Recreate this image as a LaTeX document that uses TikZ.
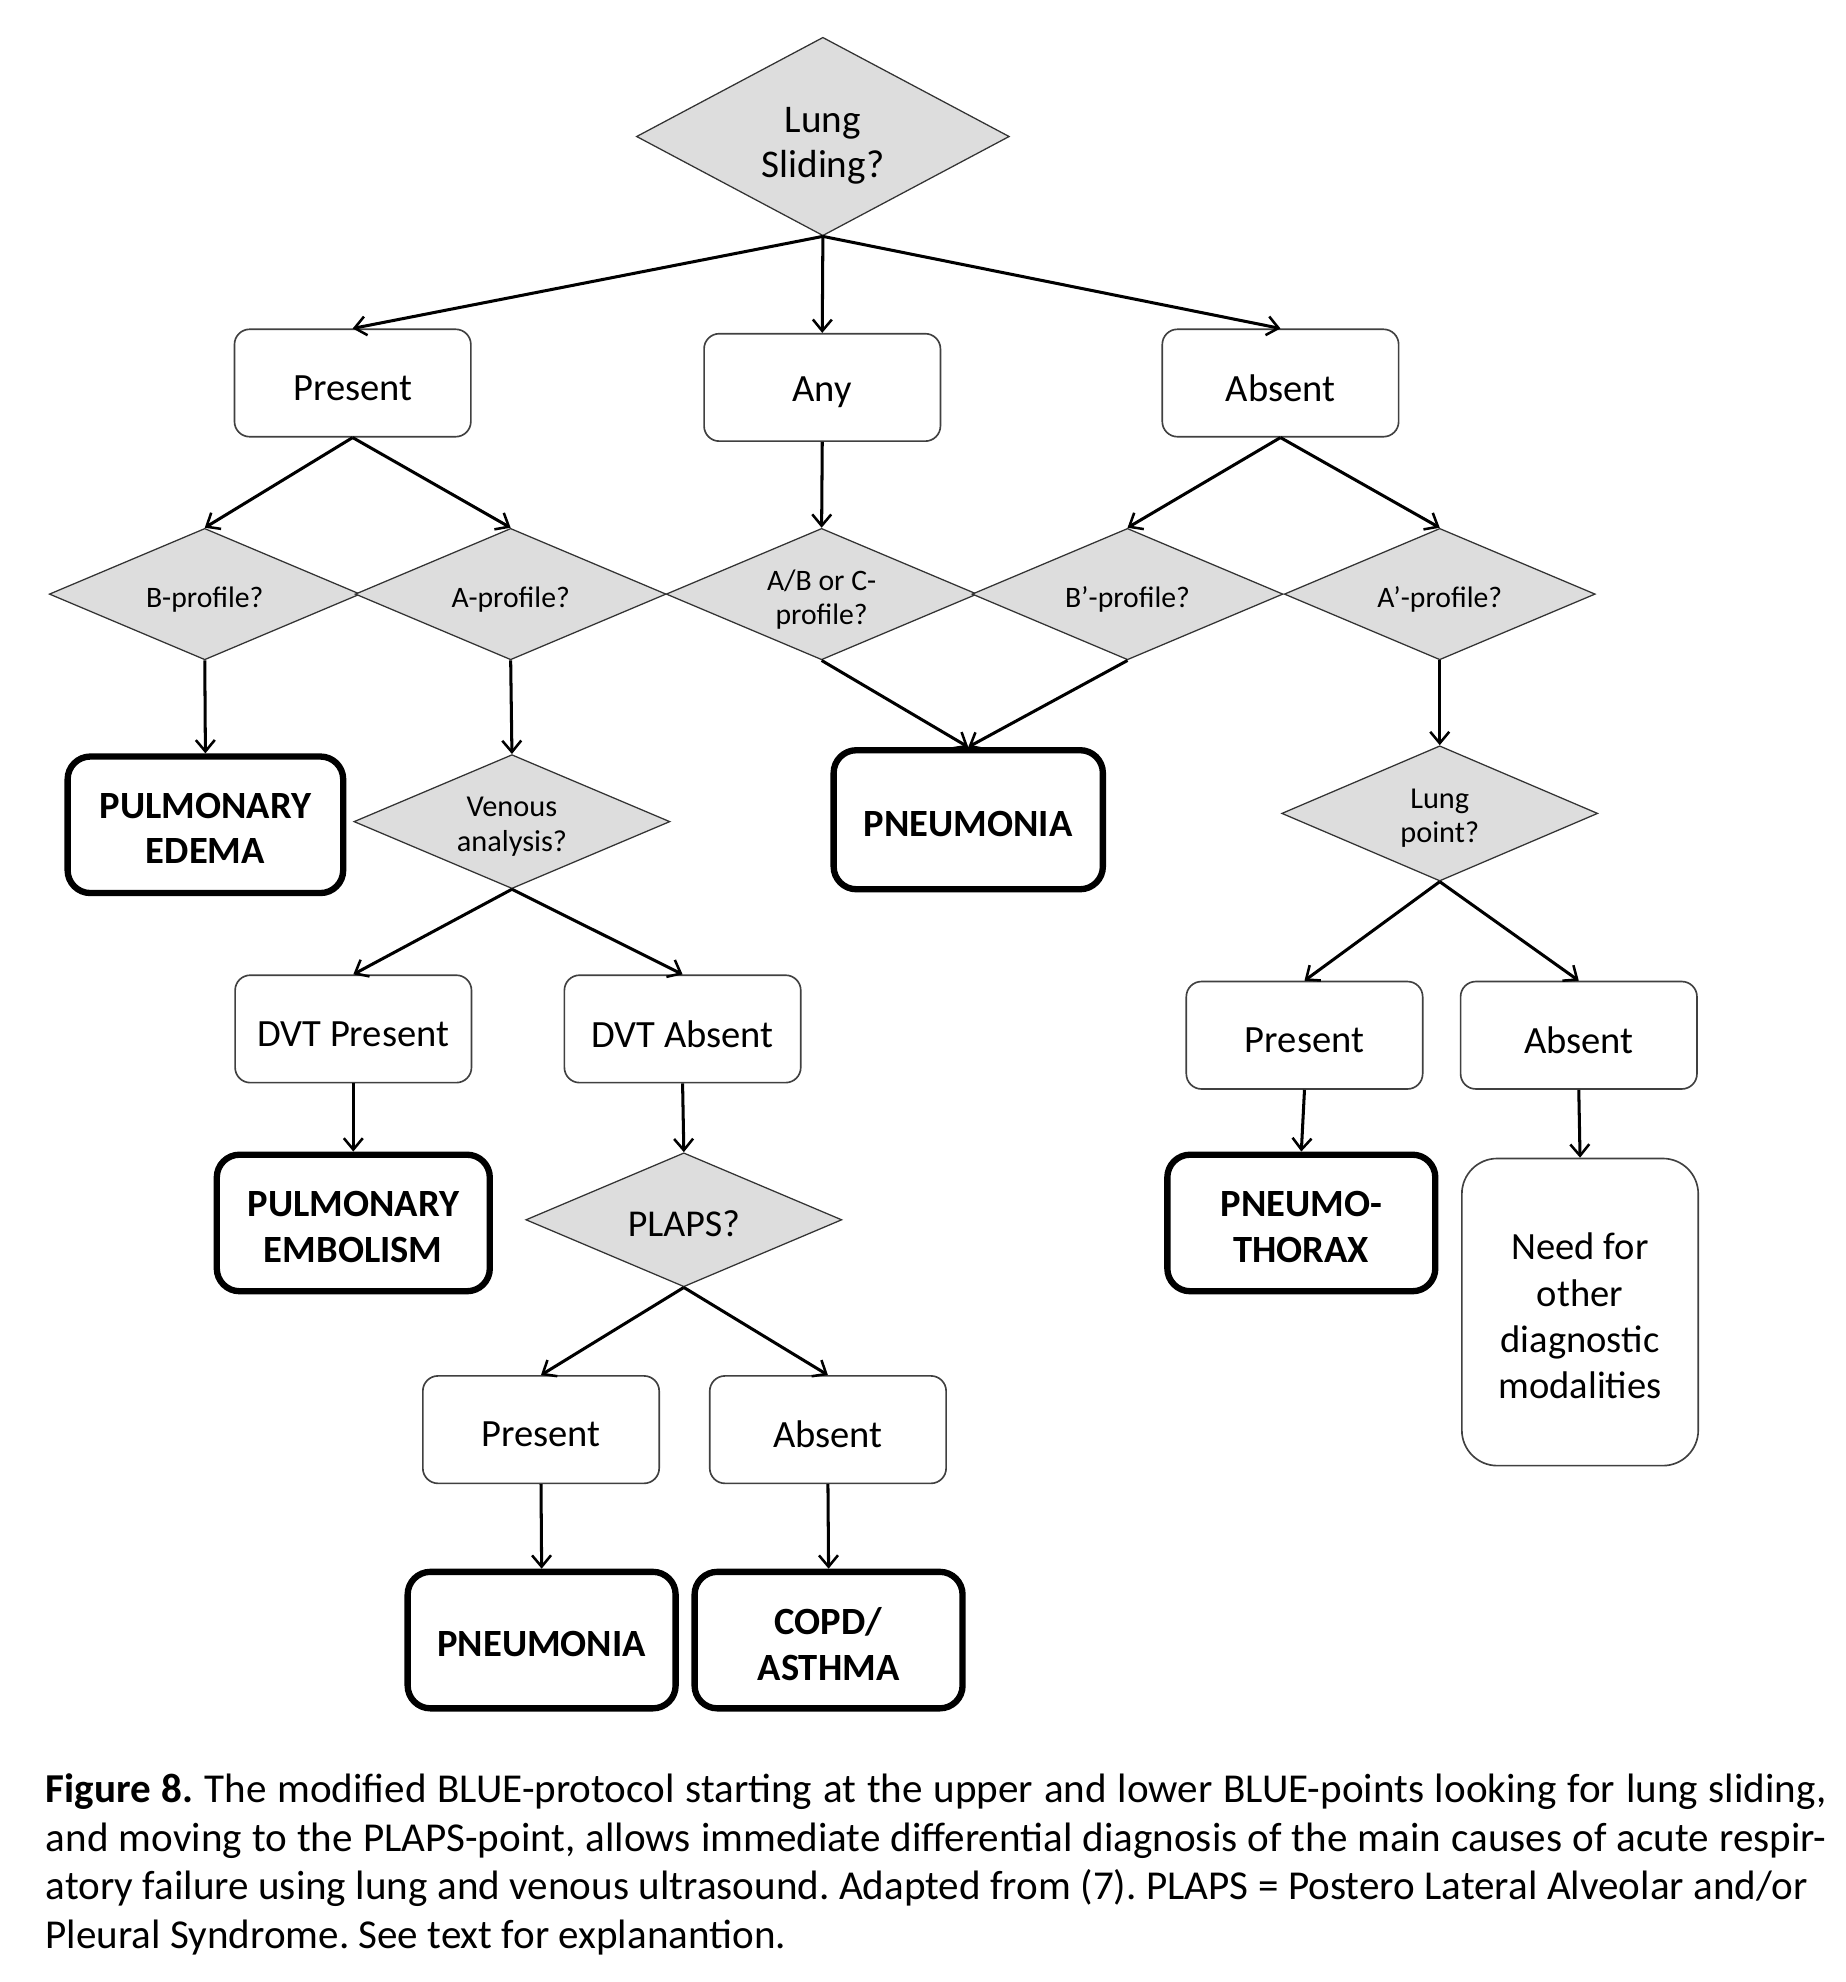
\documentclass[tikz,border=0pt]{standalone}
\usepackage{fontspec}
\setmainfont{Carlito}
\usetikzlibrary{shapes.geometric,arrows.meta}
\begin{document}
\begin{tikzpicture}[x=1pt,y=-1pt,
  t/.style={inner sep=0, align=center, yshift=-4pt},
  box/.style={draw=black!75, line width=1.3pt, rounded corners=12pt, fill=white,
    minimum width=187pt, minimum height=85pt, inner sep=0},
  bt/.style={t, font=\fontsize{30.5}{36.5}\selectfont},
  res/.style={draw=black, line width=5pt, rounded corners=18pt, fill=white,
    minimum width=212pt, minimum height=108pt, inner sep=0},
  rt/.style={t, yshift=1pt, font=\bfseries\fontsize{30.5}{36}\selectfont},
  dia/.style={diamond, aspect=2.4, draw=black!80, line width=1pt, fill=gray!27,
    minimum width=246pt, minimum height=104pt, inner sep=0},
  dt/.style={t, font=\fontsize{23.5}{27}\selectfont},
  conn/.style={line width=2.4pt, -{Straight Barb[length=9pt,width=15pt,line width=2pt]}}
]
\useasboundingbox (0,0) rectangle (1460,1568);
\fill[white] (0,0) rectangle (1460,1568);

% top
\node[dia, minimum width=295pt, minimum height=157pt,
  label={[t, yshift=-3pt, font=\fontsize{31}{35.5}\selectfont]center:{Lung\\Sliding?}}] (ls) at (651,108) {};
\node[box, label={[bt]center:Present}] (pres) at (279,303) {};
\node[box, label={[bt]center:Any}] (any) at (650.5,306.5) {};
\node[box, label={[bt]center:Absent}] (abs) at (1013,303) {};

% row of diamonds
\node[dia, label={[dt]center:B-profile?}] (bprof) at (162,470) {};
\node[dia, label={[dt]center:A-profile?}] (aprof) at (404,470) {};
\node[dia, label={[dt]center:{A/B or C-\\profile?}}] (abc) at (650,470) {};
\node[dia, label={[dt]center:B’-profile?}] (bpp) at (892,470) {};
\node[dia, label={[dt]center:A’-profile?}] (app) at (1139,470) {};

% next level
\node[res, minimum width=218pt, label={[rt]center:{PULMONARY\\EDEMA}}] (pe) at (162.5,652.5) {};
\node[dia, minimum width=250pt, minimum height=106pt,
  label={[dt, font=\fontsize{24}{27}\selectfont]center:{Venous\\analysis?}}] (ven) at (405,650) {};
\node[res, minimum width=213pt, minimum height=110pt, label={[rt]center:PNEUMONIA}] (pn1) at (766,648.5) {};
\node[dia, minimum width=250pt, minimum height=107pt,
  label={[dt, font=\fontsize{24}{27}\selectfont]center:{Lung\\point?}}] (lp) at (1139,643.5) {};

\node[box, label={[bt]center:DVT Present}] (dvtp) at (279.5,814) {};
\node[box, label={[bt]center:DVT Absent}] (dvta) at (540,814) {};
\node[box, label={[bt]center:Present}] (lpp) at (1032,819) {};
\node[box, label={[bt]center:Absent}] (lpa) at (1249,819) {};

\node[res, minimum width=216pt, label={[rt]center:{PULMONARY\\EMBOLISM}}] (emb) at (279.5,967.5) {};
\node[dia, minimum width=250pt, minimum height=106pt,
  label={[t, yshift=1pt, font=\fontsize{30}{34}\selectfont]center:PLAPS?}] (plaps) at (541,965) {};
\node[res, label={[rt]center:{PNEUMO-\\THORAX}}] (ptx) at (1029.5,967.5) {};
\node[box, minimum height=243pt, rounded corners=28pt,
  label={[t, yshift=1pt, font=\fontsize{30.5}{36.5}\selectfont]center:{Need for\\other\\diagnostic\\modalities}}] (need) at (1250,1038) {};

\node[box, label={[bt]center:Present}] (pp) at (428,1131) {};
\node[box, label={[bt]center:Absent}] (pa) at (655,1131) {};
\node[res, label={[rt]center:PNEUMONIA}] (pn2) at (428.5,1297.5) {};
\node[res, label={[rt]center:{COPD/\\ASTHMA}}] (copd) at (655.5,1297.5) {};

% connectors
\draw[conn] (ls.south) -- (pres.north);
\draw[conn] (ls.south) -- (any.north);
\draw[conn] (ls.south) -- (abs.north);
\draw[conn] (pres.south) -- (bprof.north);
\draw[conn] (pres.south) -- (aprof.north);
\draw[conn] (any.south) -- (abc.north);
\draw[conn] (abs.south) -- (bpp.north);
\draw[conn] (abs.south) -- (app.north);
\draw[conn] (bprof.south) -- (pe.north);
\draw[conn] (aprof.south) -- (ven.north);
\draw[conn] (abc.south) -- (pn1.north);
\draw[conn] (bpp.south) -- (pn1.north);
\draw[conn] (app.south) -- (lp.north);
\draw[conn] (ven.south) -- (dvtp.north);
\draw[conn] (ven.south) -- (dvta.north);
\draw[conn] (lp.south) -- (lpp.north);
\draw[conn] (lp.south) -- (lpa.north);
\draw[conn] (dvtp.south) -- (emb.north);
\draw[conn] (dvta.south) -- (plaps.north);
\draw[conn] (lpp.south) -- (ptx.north);
\draw[conn] (lpa.south) -- (need.north);
\draw[conn] (plaps.south) -- (pp.north);
\draw[conn] (plaps.south) -- (pa.north);
\draw[conn] (pp.south) -- (pn2.north);
\draw[conn] (pa.south) -- (copd.north);

% caption
\begin{scope}[every node/.style={anchor=base west, inner sep=0, font=\frenchspacing\fontsize{32.5}{38}\selectfont}]
\node (cap1) at (36,1426) {\hbox to 1409pt{\textbf{Figure 8.} The modified BLUE-protocol starting at the upper and lower BLUE-points looking for lung sliding,}};
\node (cap2) at (36,1464.5) {\hbox to 1409pt{and moving to the PLAPS-point, allows immediate differential diagnosis of the main causes of acute respir-}};
\node (cap3) at (36,1503) {\hbox to 1394pt{atory failure using lung and venous ultrasound. Adapted from (7). PLAPS = Postero Lateral Alveolar and/or}};
\node (cap4) at (36,1541.5) {Pleural Syndrome. See text for explanantion.};
\end{scope}
\end{tikzpicture}
\end{document}
